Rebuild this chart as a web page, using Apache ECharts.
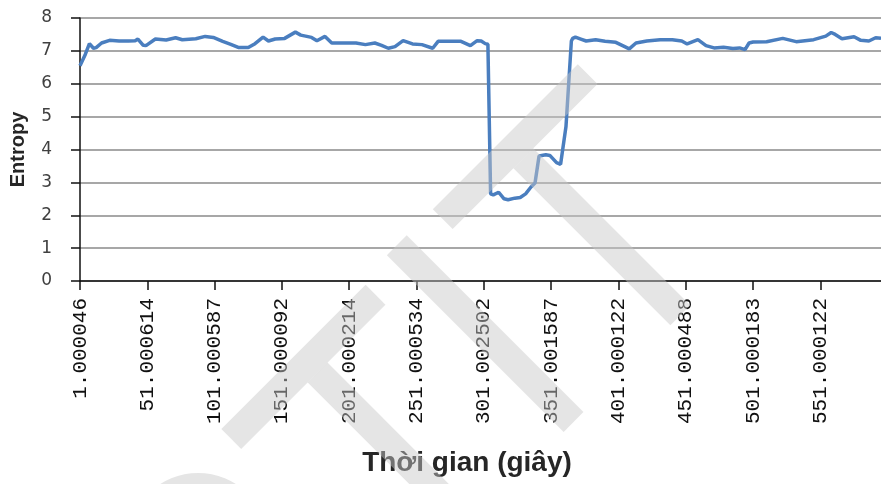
<!DOCTYPE html>
<html>
<head>
<meta charset="utf-8">
<script src="https://cdn.jsdelivr.net/npm/echarts@6/dist/echarts.min.js"></script>
<style>
  html, body { margin: 0; padding: 0; background: #ffffff; }
  #chart { width: 881px; height: 484px; }
</style>
</head>
<body>
<div id="chart"></div>
<script>
// Elapsed time (s, counted from the first sample) and the measured entropy at that moment
const seconds = [
  0, 1, 4, 7, 10, 12, 16, 22, 29, 36,
  41, 43, 47, 49, 56, 64, 71, 76, 86, 93,
  99, 106, 112, 118, 125, 130, 136, 140, 145, 152,
  160, 164, 172, 176, 182, 187, 195, 205, 212, 219,
  224, 229, 234, 240, 247, 254, 262, 266, 276, 283,
  290, 295, 298, 301, 303, 305, 307, 311, 315, 318,
  323, 327, 331, 335, 338, 341, 346, 349, 354, 357,
  361, 365, 366, 368, 372, 376, 383, 390, 398, 405,
  408, 413, 421, 431, 440, 447, 451, 459, 465, 471,
  478, 485, 490, 494, 497, 500, 510, 522, 532, 545,
  554, 558, 561, 566, 575, 580, 586, 591, 595
];
const entropy = [
  6.55, 6.5, 6.9, 7.22, 7.08, 7.1, 7.24, 7.32, 7.3, 7.3,
  7.31, 7.36, 7.17, 7.16, 7.36, 7.33, 7.4, 7.34, 7.37, 7.44,
  7.41, 7.29, 7.2, 7.1, 7.1, 7.22, 7.42, 7.3, 7.36, 7.38,
  7.57, 7.48, 7.41, 7.31, 7.44, 7.24, 7.24, 7.24, 7.19, 7.24,
  7.17, 7.08, 7.13, 7.31, 7.21, 7.19, 7.08, 7.29, 7.29, 7.29,
  7.16, 7.31, 7.3, 7.22, 7.2, 2.65, 2.62, 2.7, 2.5, 2.47,
  2.52, 2.54, 2.65, 2.86, 2.98, 3.8, 3.84, 3.82, 3.6, 3.55,
  4.7, 7.3, 7.38, 7.42, 7.36, 7.3, 7.34, 7.29, 7.26, 7.12,
  7.06, 7.24, 7.3, 7.34, 7.34, 7.3, 7.21, 7.34, 7.16, 7.09,
  7.11, 7.07, 7.09, 7.04, 7.24, 7.27, 7.28, 7.38, 7.28, 7.34,
  7.45, 7.56, 7.5, 7.37, 7.43, 7.32, 7.3, 7.4, 7.38
];

// Labelled sample positions on the time axis and the timestamps printed there
const tickValues = [0, 50, 100, 150, 200, 250, 300, 350, 400, 450, 500, 550];
const tickLabels = [
  '1.000046', '51.000614', '101.000587', '151.000092', '201.000214', '251.000534',
  '301.002502', '351.001587', '401.000122', '451.000488', '501.000183', '551.000122'
];

const chart = echarts.init(document.getElementById('chart'), null, { renderer: 'canvas' });

// Faint "PTIT" mark laid over the plot, built from bars in a rotated frame
const markFill = 'rgba(200,200,200,0.47)';
const bar = (x, y, w, h) => ({ type: 'rect', shape: { x, y, width: w, height: h }, style: { fill: markFill }, z: 100, silent: true });
const watermark = {
  type: 'group',
  x: 500, y: 142,
  rotation: Math.PI / 4,
  z: 100,
  silent: true,
  children: [
    // P
    bar(-640, 0, 28, 250),
    bar(-612, 0, 115, 28),
    bar(-612, 112, 115, 28),
    { type: 'sector', shape: { cx: -497, cy: 70, r: 70, r0: 42, startAngle: -Math.PI / 2, endAngle: Math.PI / 2 }, style: { fill: markFill }, z: 100, silent: true },
    // T
    bar(-400, 6, 204, 28),
    bar(-306, 34, 28, 216),
    // I
    bar(-160, 0, 28, 250),
    // T
    bar(-95, 0, 205, 28),
    bar(-9, 28, 28, 222)
  ]
};

chart.setOption({
  animation: false,
  backgroundColor: '#ffffff',
  grid: { left: 78, right: 0, top: 18, bottom: 203, containLabel: false },
  xAxis: {
    type: 'value',
    min: 0,
    max: 595,
    name: 'Thời gian (giây)',
    nameLocation: 'middle',
    nameGap: 168,
    nameTextStyle: {
      fontFamily: 'Liberation Sans',
      fontWeight: 'bold',
      fontSize: 28,
      color: '#262626',
      padding: [0, 27, 0, 0]
    },
    axisLine: { show: true, onZero: false, lineStyle: { color: '#111111', width: 1.5 } },
    axisTick: { show: true, length: 9, customValues: tickValues, lineStyle: { color: '#111111', width: 1.5 } },
    axisLabel: {
      customValues: tickValues,
      rotate: 90,
      margin: 17,
      fontFamily: 'Liberation Mono',
      fontSize: 21,
      color: '#111111',
      padding: [8, 0, 0, 0],
      formatter: (v) => {
        const i = tickValues.indexOf(v);
        return i >= 0 ? tickLabels[i] : '';
      }
    },
    splitLine: { show: false }
  },
  yAxis: {
    type: 'value',
    min: 0,
    max: 8,
    interval: 1,
    name: 'Entropy',
    nameLocation: 'middle',
    nameGap: 52,
    nameTextStyle: {
      fontFamily: 'Liberation Sans',
      fontWeight: 'bold',
      fontSize: 20,
      color: '#262626'
    },
    axisLine: { show: true, lineStyle: { color: '#111111', width: 1.5 } },
    axisTick: { show: true, length: 9, lineStyle: { color: '#111111', width: 1.5 } },
    axisLabel: {
      margin: 28,
      fontFamily: 'DejaVu Sans',
      fontSize: 17,
      color: '#404040'
    },
    splitLine: { show: true, lineStyle: { color: '#8a8a8a', width: 1.5 } }
  },
  series: [{
    type: 'line',
    data: seconds.map((s, i) => [s, entropy[i]]),
    showSymbol: false,
    smooth: false,
    lineStyle: { color: '#4a7ebf', width: 3.5 },
    z: 3
  }],
  graphic: [watermark]
});
</script>
</body>
</html>
